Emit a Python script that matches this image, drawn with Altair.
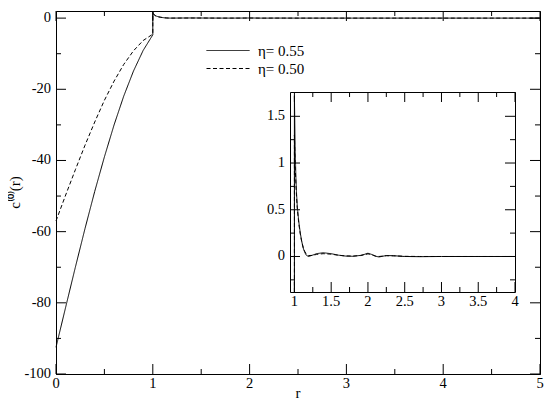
import altair as alt
import pandas as pd

FONT = "Liberation Serif"
SERIES = ["η= 0.55", "η= 0.50"]
X_TITLE = ["r"]
Y_TITLE = ["c⁽⁰⁾(r)"]

# core region r < 1
r_core = [0.0, 0.1, 0.2, 0.3, 0.4, 0.5, 0.6, 0.7, 0.8, 0.9, 1.0]
c55_core = [-92.5, -81.2, -70.0, -59.1, -48.7, -39.0, -30.0, -21.9, -14.9, -9.1, -4.7]
c50_core = [-57.0, -49.7, -42.6, -35.7, -29.2, -23.1, -17.7, -13.0, -9.2, -6.3, -4.5]

# tail r >= 1
r_tail = [1.0, 1.01, 1.02, 1.03, 1.04, 1.06, 1.08, 1.10, 1.12, 1.14, 1.16, 1.19, 1.25, 1.30,
          1.39, 1.50, 1.60, 1.70, 1.80, 1.90, 1.95, 2.00, 2.05, 2.10, 2.15, 2.25, 2.35, 2.50,
          2.70, 3.00, 3.50, 4.00, 4.50, 5.00]
c55_tail = [1.72, 1.15, 0.85, 0.66, 0.53, 0.37, 0.25, 0.16, 0.09, 0.045, 0.015, 0.0, 0.015, 0.03,
            0.04, 0.03, 0.014, 0.004, 0.002, 0.012, 0.022, 0.035, 0.022, 0.003, -0.005, 0.01, 0.008, 0.0,
            -0.002, 0.0, 0.0, 0.0, 0.0, 0.0]
c50_tail = [1.30, 0.98, 0.78, 0.62, 0.50, 0.35, 0.24, 0.155, 0.095, 0.055, 0.028, 0.01, 0.012, 0.022,
            0.03, 0.025, 0.013, 0.006, 0.005, 0.01, 0.018, 0.028, 0.02, 0.006, 0.0, 0.008, 0.007, 0.002,
            0.0, 0.0, 0.0, 0.0, 0.0, 0.0]

main_x_major = [0, 1, 2, 3, 4, 5]
main_x_minor = [0.5, 1.5, 2.5, 3.5, 4.5]
main_y_major = [-100, -80, -60, -40, -20, 0]
main_y_minor = [-90, -70, -50, -30, -10]
inset_x_major = [1, 1.5, 2, 2.5, 3, 3.5, 4]
inset_x_minor = [1.25, 1.75, 2.25, 2.75, 3.25, 3.75]
inset_y_major = [0, 0.5, 1, 1.5]
inset_y_minor = [-0.25, 0.25, 0.75, 1.25]

rows = []
for name, core, tail in [(SERIES[0], c55_core, c55_tail), (SERIES[1], c50_core, c50_tail)]:
    for i, (r, c) in enumerate(zip(r_core + r_tail, core + tail)):
        rows.append({"r": r, "c": c, "series": name, "order": i})
df = pd.DataFrame(rows)

W, H = 484, 363
IX0, IX1, IY0, IY1 = 234, 459, 281, 81  # inset left, right, bottom, top (pixels in plot area)
MAJOR, MINOR = 10, 5
LABEL_SIZE = 14.5


def mx():
    return alt.Scale(domain=[0, 5], nice=False, zero=False)


def my():
    return alt.Scale(domain=[-100, 2], nice=False, zero=False)


def ix():
    return alt.Scale(domain=[0.94, 4.0], nice=False, zero=False, range=[IX0, IX1])


def iy():
    return alt.Scale(domain=[-0.38, 1.76], nice=False, zero=False, range=[IY0, IY1], clamp=True)


dash_scale = alt.Scale(domain=SERIES, range=[[1, 0], [4, 2.5]])
legend = alt.Legend(orient="none", legendX=150, legendY=30.5, title=None,
                    symbolType="stroke", symbolSize=1849, symbolStrokeWidth=1,
                    symbolStrokeColor="black", labelFont=FONT, labelFontSize=15,
                    labelColor="black", labelOffset=8, clipHeight=18, rowPadding=0,
                    padding=0, offset=0)

base = alt.Chart(df)
inset_base = base.transform_filter("datum.r >= 1 && datum.r <= 4")


def fmt(v):
    return "%g" % v


def xticks(vals, sx, y0, y1):
    d = pd.DataFrame({"v": vals})
    return alt.Chart(d).mark_rule(color="black", strokeWidth=1).encode(
        x=alt.X("v:Q", scale=sx(), axis=None), y=alt.value(y0), y2=alt.value(y1))


def yticks(vals, sy, x0, x1):
    d = pd.DataFrame({"v": vals})
    return alt.Chart(d).mark_rule(color="black", strokeWidth=1).encode(
        y=alt.Y("v:Q", scale=sy(), axis=None), x=alt.value(x0), x2=alt.value(x1))


def xlabels(vals, sx, y0):
    d = pd.DataFrame({"v": vals, "t": [fmt(v) for v in vals]})
    return alt.Chart(d).mark_text(font=FONT, fontSize=LABEL_SIZE, color="black", align="center",
                                  baseline="top").encode(
        x=alt.X("v:Q", scale=sx(), axis=None), y=alt.value(y0), text="t:N")


def ylabels(vals, sy, x0):
    d = pd.DataFrame({"v": vals, "t": [fmt(v) for v in vals]})
    return alt.Chart(d).mark_text(font=FONT, fontSize=LABEL_SIZE, color="black", align="right",
                                  baseline="middle").encode(
        y=alt.Y("v:Q", scale=sy(), axis=None), x=alt.value(x0), text="t:N")


def frame_axis(orient, offset=0):
    return alt.Axis(orient=orient, offset=offset, labels=False, ticks=False, domain=True,
                    domainColor="black", domainWidth=1, title=None, grid=False)


main_lines = base.mark_line(color="black", strokeWidth=1).encode(
    x=alt.X("r:Q", scale=mx(), axis=frame_axis("bottom")),
    y=alt.Y("c:Q", scale=my(), axis=frame_axis("left")),
    strokeDash=alt.StrokeDash("series:N", scale=dash_scale, legend=legend),
    order=alt.Order("order:Q"),
)

inset_lines = inset_base.mark_line(color="black", strokeWidth=1).encode(
    x=alt.X("r:Q", scale=ix(), axis=frame_axis("bottom", -(H - IY0))),
    y=alt.Y("c:Q", scale=iy(), axis=frame_axis("left", -IX0)),
    strokeDash=alt.StrokeDash("series:N", scale=dash_scale, legend=legend),
    order=alt.Order("order:Q"),
)

inset_frame = inset_base.mark_line(strokeOpacity=0).encode(
    x=alt.X("r:Q", scale=ix(), axis=frame_axis("bottom", -(H - IY1))),
    y=alt.Y("c:Q", scale=iy(), axis=frame_axis("left", -IX1)),
)

x_title = alt.Chart(pd.DataFrame({"t": X_TITLE})).mark_text(
    font=FONT, fontSize=15, color="black", align="center", baseline="alphabetic").encode(
    x=alt.value(W / 2), y=alt.value(H + 24), text="t:N")
y_title = alt.Chart(pd.DataFrame({"t": Y_TITLE})).mark_text(
    font=FONT, fontSize=15, color="black", align="center", baseline="middle", angle=270).encode(
    x=alt.value(-41), y=alt.value(H / 2), text="t:N")

layers = [main_lines]
layers += [xticks(main_x_major, mx, H, H - MAJOR), xticks(main_x_minor, mx, H, H - MINOR),
           xticks(main_x_major, mx, 0, MAJOR), xticks(main_x_minor, mx, 0, MINOR),
           yticks(main_y_major, my, 0, MAJOR), yticks(main_y_minor, my, 0, MINOR),
           yticks(main_y_major, my, W, W - MAJOR), yticks(main_y_minor, my, W, W - MINOR)]
layers += [xlabels(main_x_major, mx, H + 3), ylabels(main_y_major, my, -5), x_title, y_title]
layers += [inset_frame, inset_lines]
layers += [xticks(inset_x_major, ix, IY0, IY0 - MAJOR), xticks(inset_x_minor, ix, IY0, IY0 - MINOR),
           xticks(inset_x_major, ix, IY1, IY1 + MAJOR), xticks(inset_x_minor, ix, IY1, IY1 + MINOR),
           yticks(inset_y_major, iy, IX0, IX0 + MAJOR), yticks(inset_y_minor, iy, IX0, IX0 + MINOR),
           yticks(inset_y_major, iy, IX1, IX1 - MAJOR), yticks(inset_y_minor, iy, IX1, IX1 - MINOR)]
layers += [xlabels(inset_x_major, ix, IY0 + 3), ylabels(inset_y_major, iy, IX0 - 5)]

chart = alt.layer(*layers).resolve_scale(
    x="independent", y="independent", strokeDash="shared"
).properties(
    width=W, height=H, padding={"left": 0, "top": 1, "right": 1, "bottom": 0},
).configure(font=FONT).configure_axis(
    grid=False, labelFont=FONT, titleFont=FONT,
).configure_legend(labelFont=FONT).configure_view(stroke="black", strokeWidth=1)

chart.save("out.html", embed_options={"renderer": "svg", "actions": False})
